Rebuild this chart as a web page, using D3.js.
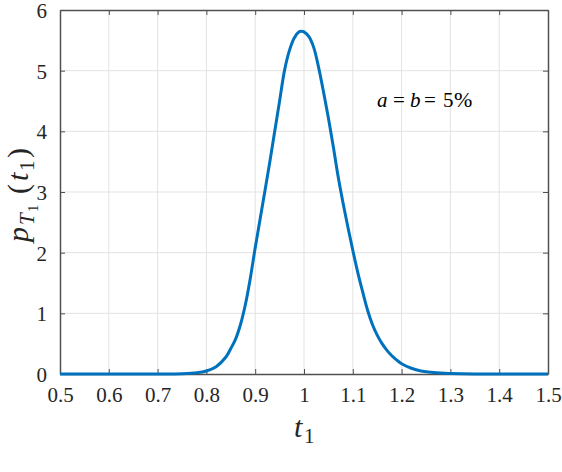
<!DOCTYPE html>
<html><head><meta charset="utf-8">
<script src="https://cdn.jsdelivr.net/npm/d3@7"></script>
<style>body{margin:0;background:#fff}</style>
</head><body>
<svg id="c" width="562" height="472"></svg>
<script>
const tValues = [0.50,0.70,0.75,0.78,0.80,0.82,0.84,0.85,0.86,0.87,0.88,0.89,0.90,0.91,0.92,0.93,0.94,0.95,0.96,0.97,0.98,0.99,0.995,1.00,1.01,1.02,1.03,1.04,1.05,1.06,1.07,1.08,1.09,1.10,1.11,1.12,1.13,1.14,1.15,1.16,1.17,1.18,1.19,1.20,1.22,1.24,1.26,1.28,1.30,1.35,1.50];
const pValues = [0,0,0.005,0.02,0.05,0.12,0.28,0.42,0.58,0.82,1.15,1.58,2.08,2.55,3.02,3.5,4.0,4.5,5.0,5.33,5.54,5.64,5.65,5.64,5.56,5.38,5.05,4.65,4.22,3.75,3.25,2.82,2.42,2.04,1.68,1.36,1.06,0.82,0.64,0.5,0.39,0.3,0.23,0.17,0.095,0.05,0.03,0.015,0.008,0,0];
const xTicks = [0.5,0.6,0.7,0.8,0.9,1,1.1,1.2,1.3,1.4,1.5];
const yTicks = [0,1,2,3,4,5,6];

const svg = d3.select("#c");
const L=60,R=548,T=10,B=374;
const x = d3.scaleLinear().domain([0.5,1.5]).range([L,R]);
const y = d3.scaleLinear().domain([0,6]).range([B,T]);
const axisCol="#262626", frameCol="#505050", gridCol="#e3e3e3";
const serif="Liberation Serif";

// grid
svg.append("g").selectAll("line").data(xTicks.slice(1,-1)).join("line")
  .attr("x1",d=>x(d)).attr("x2",d=>x(d)).attr("y1",T).attr("y2",B)
  .attr("stroke",gridCol).attr("stroke-width",1);
svg.append("g").selectAll("line").data(yTicks.slice(1,-1)).join("line")
  .attr("y1",d=>y(d)).attr("y2",d=>y(d)).attr("x1",L).attr("x2",R)
  .attr("stroke",gridCol).attr("stroke-width",1);

// axes with inward ticks
const tick=5;
const xb = svg.append("g").attr("transform",`translate(0,${B})`)
  .call(d3.axisBottom(x).tickValues(xTicks).tickFormat(d3.format("")).tickSizeInner(-tick).tickSizeOuter(0).tickPadding(13));
const xt = svg.append("g").attr("transform",`translate(0,${T})`)
  .call(d3.axisTop(x).tickValues(xTicks).tickFormat("").tickSizeInner(-tick).tickSizeOuter(0));
const yl = svg.append("g").attr("transform",`translate(${L},0)`)
  .call(d3.axisLeft(y).tickValues(yTicks).tickFormat(d3.format("")).tickSizeInner(-tick).tickSizeOuter(0).tickPadding(13));
const yr = svg.append("g").attr("transform",`translate(${R},0)`)
  .call(d3.axisRight(y).tickValues(yTicks).tickFormat("").tickSizeInner(-tick).tickSizeOuter(0));
[xb,xt,yl,yr].forEach(g=>{
  g.attr("font-family",serif).attr("font-size",21);
  g.select(".domain").attr("stroke",frameCol).attr("stroke-width",1.5);
  g.selectAll(".tick line").attr("stroke",frameCol).attr("stroke-width",1);
  g.selectAll("text").attr("fill",axisCol).attr("font-family",serif);
});
yl.selectAll("text").attr("dy","0.35em");

// curve
const line = d3.line().x((d,i)=>x(tValues[i])).y(d=>y(d)).curve(d3.curveCatmullRom.alpha(0.5));
svg.append("path").datum(pValues).attr("d",line)
  .attr("fill","none").attr("stroke","#0072BD").attr("stroke-width",3).attr("stroke-linejoin","round");

// separate text pieces (no tspans)
function piece(parent, txt, px, py, fs, italic, fill){
  return parent.append("text").attr("x",px).attr("y",py)
    .attr("font-family",serif).attr("font-size",fs)
    .attr("font-style",italic?"italic":"normal")
    .attr("fill",fill||axisCol).text(txt);
}

// x label  t_1
const xg = svg.append("g");
piece(xg,"t",294,437,30,true);
piece(xg,"1",304,443,21,false);

// y label  p_{T_1}(t_1)
const yg = svg.append("g").attr("transform","translate(28,200) rotate(-90)");
piece(yg,"p",-42,0,30,true);
piece(yg,"T",-25,6,21,true);
piece(yg,"1",-12,10,15,false);
piece(yg,"(",6,0,30,false);
piece(yg,"t",19,0,30,true);
piece(yg,"1",29,6,21,false);
piece(yg,")",42,0,30,false);

// annotation  a = b = 5%
const ag = svg.append("g");
piece(ag,"a",377,107,21,true,"#000");
piece(ag,"=",393,107,21,false,"#000");
piece(ag,"b",410,107,21,true,"#000");
piece(ag,"=",424,107,21,false,"#000");
piece(ag,"5",443,107,21,false,"#000");
piece(ag,"%",454,107,22,false,"#000");
</script>
</body></html>
